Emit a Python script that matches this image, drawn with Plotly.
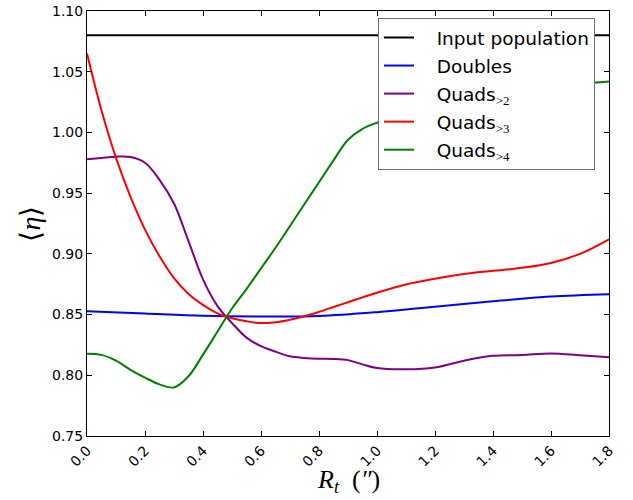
import plotly.graph_objects as go

# ---- data ----
input_x = [0.0, 1.8]
input_y = [1.08, 1.08]

doubles_x = [0.0, 0.2, 0.4, 0.6, 0.8, 1.0, 1.2, 1.4, 1.6, 1.8]
doubles_y = [0.8527, 0.8508, 0.849, 0.8484, 0.8488, 0.852, 0.8565, 0.861, 0.8648, 0.8667]

grid_x = [0.0, 0.05, 0.1, 0.15, 0.2, 0.25, 0.3, 0.35, 0.4, 0.45, 0.5, 0.55, 0.6, 0.65,
          0.7, 0.75, 0.8, 0.85, 0.9, 0.95, 1.0, 1.1, 1.2, 1.3, 1.4, 1.5, 1.6, 1.7, 1.8]

q2_y = [0.978, 0.979, 0.980, 0.9797, 0.975, 0.961, 0.9415, 0.9105, 0.879, 0.857, 0.843,
        0.831, 0.824, 0.8195, 0.8156, 0.8143, 0.8137, 0.8135, 0.8125, 0.809, 0.806,
        0.805, 0.8065, 0.812, 0.816, 0.8167, 0.818, 0.8165, 0.8148]

q3_y = [1.065, 1.018, 0.979, 0.947, 0.920, 0.898, 0.880, 0.867, 0.858, 0.851, 0.847,
        0.8445, 0.843, 0.8437, 0.8458, 0.8486, 0.8522, 0.8562, 0.8602, 0.8642, 0.868,
        0.8748, 0.8795, 0.8835, 0.886, 0.8885, 0.8925, 0.900, 0.912]

q4_y = [0.8178, 0.8168, 0.812, 0.8045, 0.798, 0.7925, 0.790, 0.7992, 0.817, 0.836, 0.855,
        0.871, 0.888, 0.905, 0.923, 0.941, 0.959, 0.977, 0.994, 1.003, 1.008,
        1.015, 1.021, 1.026, 1.030, 1.034, 1.037, 1.040, 1.042]

x_ticks = [0.0, 0.2, 0.4, 0.6, 0.8, 1.0, 1.2, 1.4, 1.6, 1.8]
y_ticks = [0.75, 0.80, 0.85, 0.90, 0.95, 1.00, 1.05, 1.10]

PAD = "&nbsp;" * 3
SUB = '<sub><span style="font-family:\'Liberation Serif\', serif">&gt;{}</span></sub>'

series = [
    (PAD + "Input population", input_x, input_y, "#000000"),
    (PAD + "Doubles", doubles_x, doubles_y, "#0000ff"),
    (PAD + "Quads" + SUB.format(2), grid_x, q2_y, "#800080"),
    (PAD + "Quads" + SUB.format(3), grid_x, q3_y, "#ff0000"),
    (PAD + "Quads" + SUB.format(4), grid_x, q4_y, "#008000"),
]

fig = go.Figure()
for i, (name, xs, ys, col) in enumerate(series):
    fig.add_trace(go.Scatter(
        x=xs, y=ys, name=name, mode="lines", legendgroup=f"g{i}",
        line=dict(color=col, width=2, shape="spline", smoothing=1.0),
    ))

axis_common = dict(
    showline=True, linecolor="black", linewidth=1, mirror="allticks",
    ticks="inside", ticklen=5, tickcolor="black", tickwidth=1,
    showgrid=False, zeroline=False, automargin=False,
    tickfont=dict(family="DejaVu Sans", size=14, color="black"),
)

fig.update_layout(
    width=633, height=500,
    margin=dict(l=87, r=24, t=11, b=64),
    paper_bgcolor="white", plot_bgcolor="white",
    showlegend=True,
    legend=dict(
        x=0.5575, y=0.9836, xanchor="left", yanchor="top",
        bgcolor="white", bordercolor="#707070", borderwidth=1,
        font=dict(family="DejaVu Sans", size=18.5, color="black"),
        tracegroupgap=1,
    ),
    xaxis=dict(
        range=[0, 1.8], tickvals=x_ticks,
        ticktext=[f"{v:.1f}" for v in x_ticks], tickangle=-45,
        **axis_common,
    ),
    yaxis=dict(
        range=[0.75, 1.10], tickvals=y_ticks,
        ticktext=[f"{v:.2f}" for v in y_ticks],
        **axis_common,
    ),
    annotations=[
        dict(text="<i>R</i><sub><i>t</i></sub>  (<i>″</i>)",
             xref="paper", yref="paper", x=0.5, y=0, yshift=-45,
             xanchor="center", yanchor="middle", showarrow=False,
             font=dict(family="Liberation Serif", size=26, color="black")),
        dict(text="⟨<i>η</i>⟩", textangle=-90,
             xref="paper", yref="paper", x=0, y=0.5, xshift=-57,
             xanchor="center", yanchor="middle", showarrow=False,
             font=dict(family="Liberation Serif", size=28, color="black")),
    ],
)

fig.write_html("out.html", config={"displayModeBar": False},
               post_script="document.body.style.margin='0';")
